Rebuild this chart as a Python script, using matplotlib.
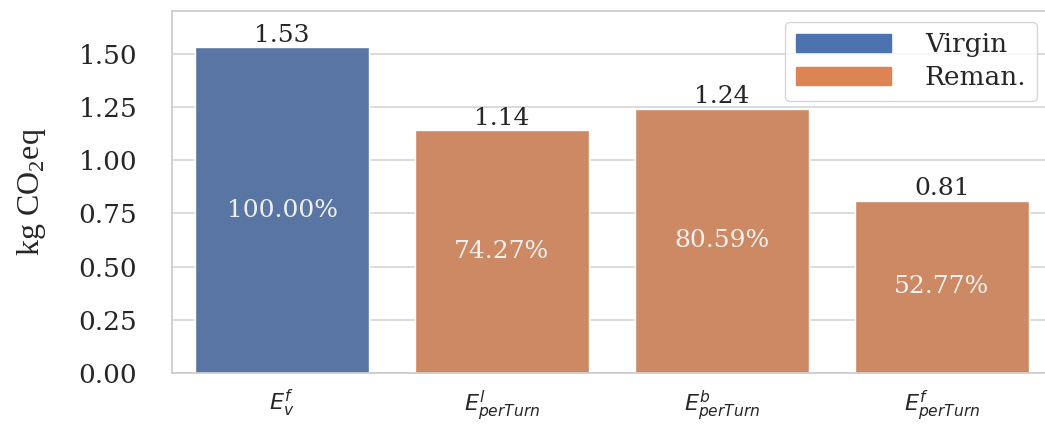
import matplotlib
matplotlib.use("Agg")
import matplotlib.pyplot as plt
from matplotlib.patches import Patch
import seaborn as sns

labels = [r"$E_v^f$", r"$E_{perTurn}^l$", r"$E_{perTurn}^b$", r"$E_{perTurn}^f$"]
values = [1.53, 1.14, 1.24, 0.81]
percents = ["100.00%", "74.27%", "80.59%", "52.77%"]
groups = ["Virgin", "Reman.", "Reman.", "Reman."]

sns.set_theme(style="whitegrid")
plt.rcParams["font.family"] = ["DejaVu Serif"]

deep = sns.color_palette("deep")
bar_colors = {"Virgin": sns.desaturate(deep[0], 0.75), "Reman.": sns.desaturate(deep[1], 0.75)}
leg_colors = {"Virgin": deep[0], "Reman.": deep[1]}

fig = plt.figure(figsize=(10.45, 4.28), dpi=100)
ax = fig.add_axes([172 / 1045, 55 / 428, 880 / 1045, 362 / 428])

x = range(len(values))
bars = ax.bar(x, values, width=0.79, color=[bar_colors[g] for g in groups], zorder=2)

for b, v, p in zip(bars, values, percents):
    cx = b.get_x() + b.get_width() / 2
    ax.text(cx, v + 0.003, f"{v:.2f}", ha="center", va="bottom", fontsize=18, color="#262626")
    ax.text(cx, v / 2, p, ha="center", va="center", fontsize=18, color="#f0f0f0")

yt = [0, 0.25, 0.5, 0.75, 1.0, 1.25, 1.5]
ax.set_xlim(-0.5, 3.5)
ax.set_ylim(0, 1.7)
ax.set_yticks(yt)
ax.set_yticklabels([f"{t:.2f}" for t in yt])
ax.tick_params(axis="y", labelsize=19, colors="#262626", pad=19)
ax.set_xticks(list(x))
ax.set_xticklabels(labels, fontsize=16)
ax.tick_params(axis="x", pad=5)
ax.xaxis.grid(False)
ax.yaxis.grid(True, color="#d5d5d5", lw=1.2)
ax.set_ylabel(r"kg CO$_\mathregular{2}$eq", fontsize=23, family="Liberation Serif", labelpad=22)
for s in ax.spines.values():
    s.set_color("#cccccc")

handles = [Patch(color=leg_colors[g]) for g in ["Virgin", "Reman."]]
leg = ax.legend(handles, ["Virgin", "Reman."], loc="upper right", bbox_to_anchor=(0.983, 0.97),
                borderaxespad=0, fontsize=19, handlelength=3.6, handleheight=0.7, handletextpad=1.3,
                borderpad=0.4, labelspacing=0.3, frameon=True)
leg.get_frame().set_edgecolor("#cccccc")

fig.savefig("out.png", dpi=100)
